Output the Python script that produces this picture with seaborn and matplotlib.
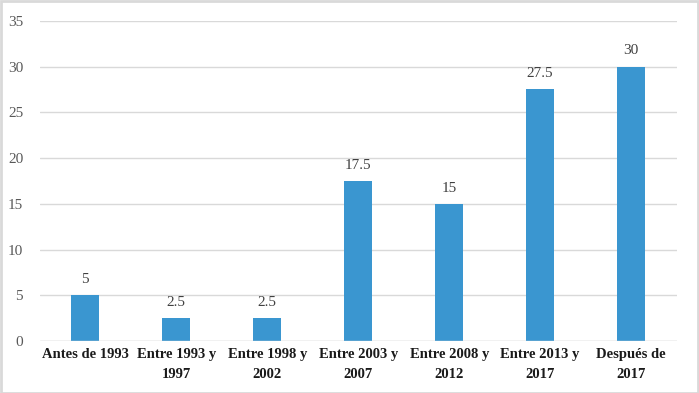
import matplotlib
matplotlib.use("Agg")
import pandas as pd
import matplotlib.pyplot as plt
import seaborn as sns

categories = ["Antes de 1993", "Entre 1993 y\n1997", "Entre 1998 y\n2002", "Entre 2003 y\n2007",
              "Entre 2008 y\n2012", "Entre 2013 y\n2017", "Después de\n2017"]
values = [5, 2.5, 2.5, 17.5, 15, 27.5, 30]
value_labels = ["5", "2.5", "2.5", "17.5", "15", "27.5", "30"]

df = pd.DataFrame({"periodo": categories, "valor": values})

sns.set_style("white")
plt.rcParams["font.family"] = ["Liberation Serif", "DejaVu Serif"]

fig = plt.figure(figsize=(6.99, 3.93), dpi=100)
ax = fig.add_axes([0.057, 0.132, 0.911, 0.815])

sns.barplot(data=df, x="periodo", y="valor", color="#3A96D0", saturation=1, width=0.31,
            linewidth=0, ax=ax)

for i, (v, lab) in enumerate(zip(values, value_labels)):
    ax.text(i, v + 1.0, lab, ha="center", va="bottom", fontsize=11, color="#404040")

ax.set_ylim(0, 35)
ax.set_xlim(-0.5, 6.5)
ax.set_yticks(range(0, 36, 5))
ax.yaxis.grid(True, color="#d9d9d9", linewidth=1)
ax.set_axisbelow(True)
for s in ax.spines.values():
    s.set_visible(False)
ax.axhline(0, color="#d9d9d9", linewidth=1)
ax.set_xlabel("")
ax.set_ylabel("")
ax.tick_params(axis="y", length=0, labelsize=11, labelcolor="#595959", pad=12)
ax.tick_params(axis="x", length=0, labelsize=10.5, labelcolor="#1a1a1a", pad=5)
for t in ax.get_xticklabels():
    t.set_fontweight("bold")
    t.set_linespacing(1.7)

fig.patches.append(plt.Rectangle((0.001, 0.001), 0.997, 0.997, transform=fig.transFigure,
                                 fill=False, edgecolor="#d9d9d9", linewidth=2))

fig.savefig("out.png", dpi=100)
